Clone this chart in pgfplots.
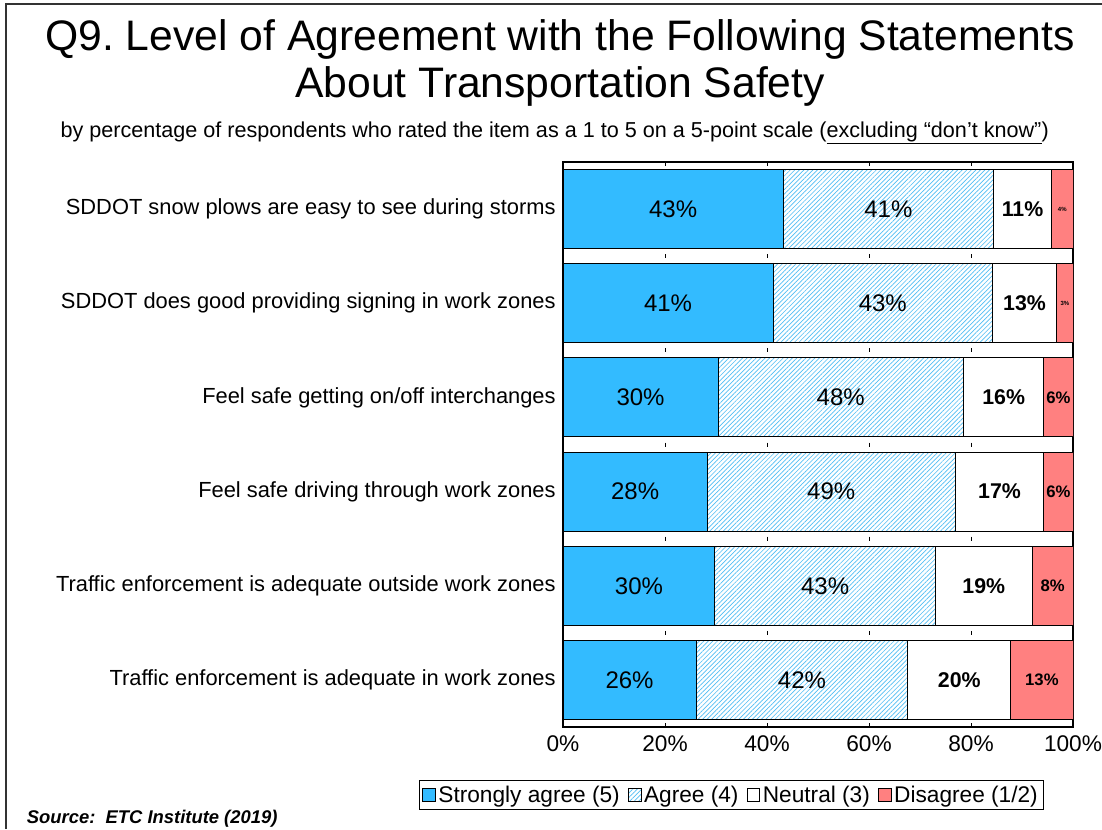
\documentclass[border=0pt]{standalone}
\usepackage{fontspec}
\setmainfont{Liberation Sans}
\usepackage{pgfplots}
\pgfplotsset{compat=1.18}
\usetikzlibrary{patterns.meta}

\definecolor{sagree}{RGB}{51,187,255}
\definecolor{hatch}{RGB}{80,190,245}
\definecolor{disag}{RGB}{255,128,128}

\begin{document}
\frenchspacing
\begin{tikzpicture}
\useasboundingbox (0,0) rectangle (826.5pt,-621.75pt);
\fill[white] (0,0) rectangle (826.5pt,-621.75pt);
\draw[line width=1pt, black!80] (4.5pt,-621.75pt) -- (4.5pt,-3pt) -- (826.5pt,-3pt);

% titles
\node[anchor=base, inner sep=0pt, font=\fontsize{32}{38}\selectfont] at (420pt,-37.5pt)
  {Q9. Level of Agreement with the Following Statements};
\node[anchor=base, inner sep=0pt, font=\fontsize{32}{38}\selectfont] at (420pt,-72.75pt)
  {About Transportation Safety};
\node[anchor=base, inner sep=0pt, font=\fontsize{16.2}{18}\selectfont] at (416pt,-103pt)
  {by percentage of respondents who rated the item as a 1 to 5 on a 5-point scale (\underline{excluding “don't know”})};

\begin{axis}[
  at={(422.25pt,-545.25pt)}, anchor=south west,
  scale only axis, width=382.5pt, height=423.75pt,
  xbar stacked, bar width=59.25pt,
  xmin=0, xmax=100, ymin=-0.5, ymax=5.5, y dir=reverse,
  xtick={0,20,...,100},
  xticklabel={\pgfmathprintnumber{\tick}\%},
  xtick pos=both, xticklabel pos=lower, xtick align=inside,
  major tick length=3pt,
  x tick style={black, line width=0.75pt},
  ytick={0,...,5},
  yticklabels={SDDOT snow plows are easy to see during storms,
    SDDOT does good providing signing in work zones,
    Feel safe getting on/off interchanges,
    Feel safe driving through work zones,
    Traffic enforcement is adequate outside work zones,
    Traffic enforcement is adequate in work zones},
  y tick style={draw=none},
  xmajorgrids,
  grid style={black, line width=0.75pt, dash pattern=on 3pt off 67.625pt, dash phase=1.5pt},
  axis line style={black, line width=1pt},
  /pgf/number format/assume math mode=true,
  xticklabel style={font=\fontsize{17}{20}\selectfont, yshift=-3pt},
  yticklabel style={font=\fontsize{16.4}{19}\selectfont, xshift=-2pt},
  point meta=explicit,
  nodes near coords={\pgfmathprintnumber{\pgfplotspointmeta}\%},
  every node near coord/.append style={anchor=center, black},
  area legend,
  legend image code/.code={\draw[#1, draw=black, line width=0.6pt] (0pt,-4.8pt) rectangle (9.6pt,4.8pt);},
  legend style={at={(0.33,-0.0938)}, anchor=north, legend columns=4,
    draw=black, line width=0.75pt, inner sep=2pt,
    font=\fontsize{17}{20}\selectfont,
    /tikz/every even column/.append style={column sep=4pt}},
]
\addplot[fill=sagree, draw=black, line width=0.75pt,
  every node near coord/.append style={font=\fontsize{18}{21}\selectfont}]
  coordinates {(43.2,0) [43] (41.2,1) [41] (30.4,2) [30] (28.3,3) [28] (29.8,4) [30] (26.1,5) [26]};
\addplot[pattern={Lines[angle=45,distance=2.4pt,line width=0.5pt]}, pattern color=hatch,
  draw=black, line width=0.75pt,
  every node near coord/.append style={font=\fontsize{18}{21}\selectfont}]
  coordinates {(41.2,0) [41] (43.0,1) [43] (48.1,2) [48] (48.6,3) [49] (43.2,4) [43] (41.5,5) [42]};
\addplot[fill=white, draw=black, line width=0.75pt,
  every node near coord/.append style={font=\fontsize{16}{18}\selectfont\bfseries}]
  coordinates {(11.4,0) [11] (12.6,1) [13] (15.8,2) [16] (17.4,3) [17] (19.0,4) [19] (20.2,5) [20]};
\addplot[fill=disag, draw=black, line width=0.75pt,
  visualization depends on={value \coordindex \as \idx},
  nodes near coords={\ifnum\idx<2 \fontsize{4.5}{5}\selectfont\fi\pgfmathprintnumber{\pgfplotspointmeta}\%},
  every node near coord/.append style={font=\fontsize{12.5}{14}\selectfont\bfseries}]
  coordinates {(4.2,0) [4] (3.2,1) [3] (5.7,2) [6] (5.7,3) [6] (8.0,4) [8] (12.2,5) [13]};
\legend{Strongly agree (5), Agree (4), Neutral (3), Disagree (1/2)}
\end{axis}

\node[anchor=base west, inner sep=0pt, font=\fontsize{13.8}{16}\selectfont\bfseries\itshape]
  at (20pt,-617.5pt) {Source:\ \ ETC Institute (2019)};
\end{tikzpicture}
\end{document}
